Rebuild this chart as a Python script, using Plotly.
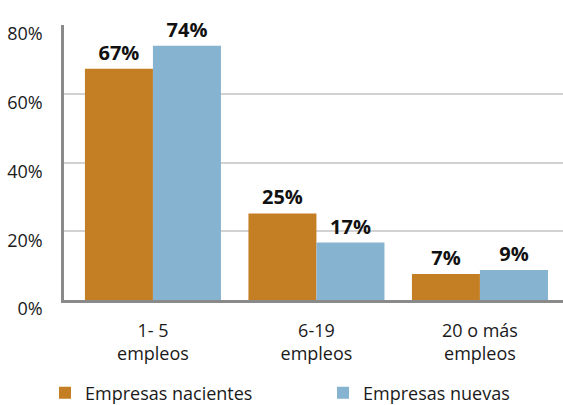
import plotly.graph_objects as go

categories = ["1- 5<br>empleos", "6-19<br>empleos", "20 o más<br>empleos"]
nacientes = [67.3, 25.2, 7.6]
nuevas = [74.0, 16.7, 8.7]
nacientes_labels = ["67%", "25%", "7%"]
nuevas_labels = ["74%", "17%", "9%"]
y_ticks = [0, 20, 40, 60, 80]
y_tick_labels = ["0%", "20%", "40%", "60%", "80%"]

FONT = "Open Sans"
x_idx = list(range(len(categories)))

fig = go.Figure()
fig.add_trace(go.Bar(
    name="Empresas nacientes", x=x_idx, y=nacientes, legend="legend",
    marker=dict(color="#C47F25", line=dict(width=0)),
    text=nacientes_labels, textposition="outside",
    textfont=dict(family=FONT, size=20, color="#111111", weight="bold"),
    cliponaxis=False,
))
fig.add_trace(go.Bar(
    name="Empresas nuevas", x=x_idx, y=nuevas, legend="legend2",
    marker=dict(color="#85B3D0", line=dict(width=0)),
    text=nuevas_labels, textposition="outside",
    textfont=dict(family=FONT, size=20, color="#111111", weight="bold"),
    cliponaxis=False,
))

legend_common = dict(
    orientation="h", xref="container", yref="container",
    xanchor="left", y=12 / 405, yanchor="middle",
    font=dict(family=FONT, size=18, color="#1a1a1a"),
    bgcolor="rgba(0,0,0,0)",
)

fig.update_layout(
    width=563, height=405,
    margin=dict(l=64, r=0, t=25, b=105, autoexpand=False),
    paper_bgcolor="white", plot_bgcolor="white",
    barmode="group", bargap=0.168, bargroupgap=0,
    font=dict(family=FONT, size=18, color="#1a1a1a"),
    showlegend=True,
    legend=dict(x=45 / 563, **legend_common),
    legend2=dict(x=323 / 563, **legend_common),
    xaxis=dict(
        range=[-0.544, 2.508], tickmode="array", tickvals=x_idx, ticktext=categories,
        showgrid=False, showline=True, linecolor="#8a8a8a", linewidth=3,
        ticks="", ticklabelstandoff=12, zeroline=False, automargin=False,
    ),
    yaxis=dict(
        range=[0, 80], tickmode="array", tickvals=y_ticks, ticktext=y_tick_labels,
        showgrid=True, gridcolor="#d2d2d2", gridwidth=1.5,
        showline=True, linecolor="#8a8a8a", linewidth=2.5,
        ticks="", ticklabelstandoff=15, ticklabelshift=9, zeroline=False,
        automargin=False,
    ),
)

fig.write_html(
    "out.html",
    config={"displayModeBar": False},
    post_script="document.body.style.margin='0';document.body.style.overflow='hidden';",
)
